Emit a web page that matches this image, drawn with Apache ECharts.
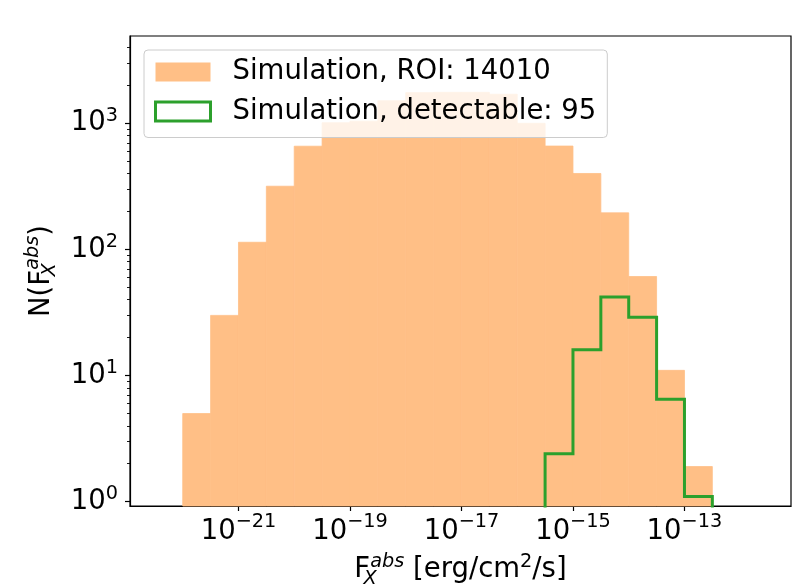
<!DOCTYPE html>
<html>
<head>
<meta charset="utf-8">
<script src="https://cdn.jsdelivr.net/npm/echarts@6/dist/echarts.min.js"></script>
<style>
  html, body { margin: 0; padding: 0; background: #fff; }
  #chart { width: 794px; height: 586px; }
</style>
</head>
<body>
<div id="chart"></div>
<script>
// bin edges as log10(flux), half-decade bins
const binEdges = [-22, -21.5, -21, -20.5, -20, -19.5, -19, -18.5, -18, -17.5, -17,
                  -16.5, -16, -15.5, -15, -14.5, -14, -13.5, -13, -12.5]
// all simulated sources in ROI
const roiCounts = [5, 30, 114, 317, 658, 1010, 1040, 1510, 1750, 1760, 1760,
                   1700, 1000, 660, 400, 195, 61, 11, 1.9]
// detectable sources
const detCounts = [0, 0, 0, 0, 0, 0, 0, 0, 0, 0, 0, 0, 0, 2.4, 16, 42, 29, 6.5, 1.1]
const xTickExps = [-21, -19, -17, -15, -13]
const yTickExps = [0, 1, 2, 3]
const yMinorTicks = [2, 3, 4, 5, 6, 7, 8, 9, 20, 30, 40, 50, 60, 70, 80, 90,
                     200, 300, 400, 500, 600, 700, 800, 900, 2000, 3000, 4000]

const xMin = Math.pow(10, -22.946)
const xMax = Math.pow(10, -11.089)
const yMin = Math.pow(10, -0.034)
const yMax = Math.pow(10, 3.692)

const font = 'DejaVu Sans'
const fs = 27.5
const fsSmall = 19.3
const orange = '#ffbf86'
const green = '#2ca02c'

// bars: [lo, hi, count]
const roiData = roiCounts.map((c, i) => [Math.pow(10, binEdges[i]), Math.pow(10, binEdges[i + 1]), c])

// step outline for detectable histogram (drops below axis floor, clipped)
const floorVal = 0.5
const stepPts = []
detCounts.forEach((c, i) => {
    if (c <= 0) return
    const prev = i > 0 ? detCounts[i - 1] : 0
    const lo = Math.pow(10, binEdges[i])
    const hi = Math.pow(10, binEdges[i + 1])
    if (!prev) stepPts.push([lo, floorVal])
    stepPts.push([lo, c], [hi, c])
    const next = detCounts[i + 1] || 0
    if (!next) stepPts.push([hi, floorVal])
})

const xPowRich = {
    b: { fontFamily: font, fontSize: fs, color: '#000', lineHeight: 34, verticalAlign: 'bottom' },
    e: { fontFamily: font, fontSize: fsSmall, color: '#000', lineHeight: 20, verticalAlign: 'top' }
}
const yPowRich = {
    b: { fontFamily: font, fontSize: fs, color: '#000', lineHeight: 34, verticalAlign: 'middle' },
    e: { fontFamily: font, fontSize: fsSmall, color: '#000', lineHeight: 20, verticalAlign: 'top' }
}
function powLabel(v) {
    const ex = Math.round(Math.log10(v))
    return '{b|10}{e|' + String(ex).replace('-', '\u2212') + '}'
}

const nameRich = {
    t: { fontFamily: font, fontSize: fs, color: '#000', lineHeight: 36, verticalAlign: 'middle' },
    sup: { fontFamily: font, fontSize: fsSmall, fontStyle: 'italic', color: '#000', lineHeight: 20, verticalAlign: 'top' },
    sub: { fontFamily: font, fontSize: fsSmall, fontStyle: 'italic', color: '#000', lineHeight: 20, verticalAlign: 'bottom', width: 0, align: 'left' },
    s2: { fontFamily: font, fontSize: fsSmall, color: '#000', lineHeight: 20, verticalAlign: 'top' }
}

const chart = echarts.init(document.getElementById('chart'), null, { renderer: 'canvas' })

const option = {
    animation: false,
    backgroundColor: '#fff',
    grid: {
        left: 130, right: 3, top: 36, bottom: 80,
        outerBoundsMode: 'none', containLabel: false,
        show: true, borderColor: '#000', borderWidth: 1.2, backgroundColor: 'transparent'
    },
    legend: {
        orient: 'vertical',
        left: 144, top: 50,
        padding: [8, 11, 12, 10],
        itemWidth: 55, itemHeight: 19, itemGap: 11.5,
        backgroundColor: 'rgba(255,255,255,0.8)',
        borderColor: '#cccccc', borderWidth: 1, borderRadius: 4,
        textStyle: { fontFamily: font, fontSize: fs, color: '#000', lineHeight: 27.5, padding: [0, 0, 0, 17] },
        data: [
            { name: 'Simulation, ROI: 14010', icon: 'rect', itemStyle: { color: orange, borderWidth: 0 } },
            { name: 'Simulation, detectable: 95', icon: 'rect',
              itemStyle: { color: '#fff', borderColor: green, borderWidth: 3 }, lineStyle: { width: 0 } }
        ]
    },
    xAxis: {
        type: 'log', min: xMin, max: xMax,
        name: '{t|F}{sub|X}{sup|abs}{t| [erg/cm}{s2|2}{t|/s]}',
        nameLocation: 'middle', nameGap: 46,
        nameTextStyle: { rich: nameRich },
        axisLine: { show: true, lineStyle: { color: '#000', width: 1.2 } },
        axisTick: { show: true, length: 5, lineStyle: { color: '#000', width: 1.2 },
                    customValues: xTickExps.map(e => Math.pow(10, e)) },
        axisLabel: { margin: 6, formatter: powLabel, rich: xPowRich,
                     customValues: xTickExps.map(e => Math.pow(10, e)) },
        splitLine: { show: false }, minorTick: { show: false }
    },
    yAxis: [{
        type: 'log', min: yMin, max: yMax,
        name: '{t|N(F}{sub|X}{sup|abs}{t|)}',
        nameLocation: 'middle', nameGap: 70, nameRotate: 90,
        nameTextStyle: { rich: nameRich },
        axisLine: { show: true, lineStyle: { color: '#000', width: 1.2 } },
        axisTick: { show: true, length: 5, lineStyle: { color: '#000', width: 1.2 },
                    customValues: yTickExps.map(e => Math.pow(10, e)) },
        axisLabel: { margin: 12, formatter: powLabel, rich: yPowRich,
                     customValues: yTickExps.map(e => Math.pow(10, e)) },
        splitLine: { show: false }, minorTick: { show: false }
    }, {
        // minor ticks only
        type: 'log', min: yMin, max: yMax, position: 'left',
        axisLine: { show: false },
        axisTick: { show: true, length: 3, lineStyle: { color: '#000', width: 0.9 },
                    customValues: yMinorTicks },
        axisLabel: { show: false },
        splitLine: { show: false }, minorTick: { show: false }
    }],
    series: [{
        name: 'Simulation, ROI: 14010',
        type: 'custom',
        xAxisIndex: 0, yAxisIndex: 0,
        encode: { x: [0, 1], y: 2 },
        itemStyle: { color: orange },
        renderItem: function (params, api) {
            const p0 = api.coord([api.value(0), api.value(2)])
            const p1 = api.coord([api.value(1), yMin])
            return {
                type: 'rect',
                shape: { x: p0[0], y: p0[1], width: p1[0] - p0[0], height: p1[1] - p0[1] },
                style: { fill: orange, stroke: orange, lineWidth: 0.8 }
            }
        },
        data: roiData,
        z: 2
    }, {
        name: 'Simulation, detectable: 95',
        type: 'line',
        xAxisIndex: 0, yAxisIndex: 0,
        data: stepPts,
        showSymbol: false, symbol: 'none',
        clip: true,
        color: green,
        lineStyle: { color: green, width: 3, join: 'miter' },
        z: 3
    }]
}
option && chart.setOption(option)
</script>
</body>
</html>
